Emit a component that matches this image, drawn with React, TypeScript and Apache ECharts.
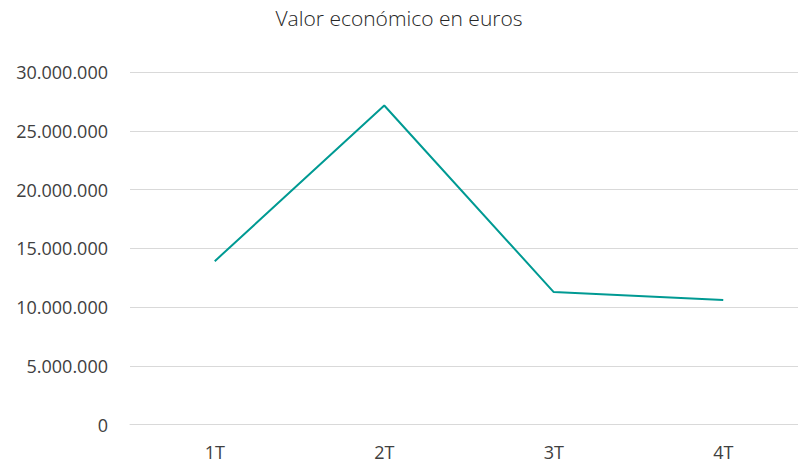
import React, { useEffect, useRef } from "react";
import * as echarts from "echarts";

const categories = ["1T", "2T", "3T", "4T"];
const values = [13900000, 27150000, 11270000, 10590000];
const yTicks = { min: 0, max: 30000000, interval: 5000000 };
const title = "Valor económico en euros";

function fmt(v: number): string {
  return String(Math.round(v)).replace(/\B(?=(\d{3})+(?!\d))/g, ".");
}

export default function App() {
  const ref = useRef<HTMLDivElement>(null);
  useEffect(() => {
    document.body.style.margin = "0";
    document.body.style.overflow = "hidden";
    const chart = echarts.init(ref.current!, null, { renderer: "svg" });
    chart.setOption({
      animation: false,
      backgroundColor: "#ffffff",
      graphic: [
        {
          type: "text",
          x: 399,
          y: 18,
          style: {
            text: title,
            align: "center",
            verticalAlign: "middle",
            fontFamily: "Open Sans",
            fontWeight: 300,
            fontSize: 21,
            fill: "#262626",
          },
        },
      ],
      grid: { left: 130, right: 0, top: 72, bottom: 40.5, containLabel: false },
      xAxis: {
        type: "category",
        data: categories,
        boundaryGap: true,
        axisLine: { show: true, lineStyle: { color: "#d9d9d9", width: 1 } },
        axisTick: { show: false },
        axisLabel: {
          color: "#404040",
          fontFamily: "Open Sans",
          fontSize: 18,
          margin: 18,
        },
      },
      yAxis: {
        type: "value",
        min: yTicks.min,
        max: yTicks.max,
        interval: yTicks.interval,
        axisLine: { show: false },
        axisTick: { show: false },
        splitLine: { lineStyle: { color: "#d9d9d9", width: 1 } },
        axisLabel: {
          color: "#404040",
          fontFamily: "Open Sans",
          fontSize: 18,
          margin: 22,
          formatter: (v: number) => fmt(v),
        },
      },
      series: [
        {
          type: "line",
          data: values,
          symbol: "none",
          lineStyle: { color: "#009a93", width: 2 },
        },
      ],
    });
    return () => chart.dispose();
  }, []);
  return <div ref={ref} style={{ width: 808, height: 465 }} />;
}
